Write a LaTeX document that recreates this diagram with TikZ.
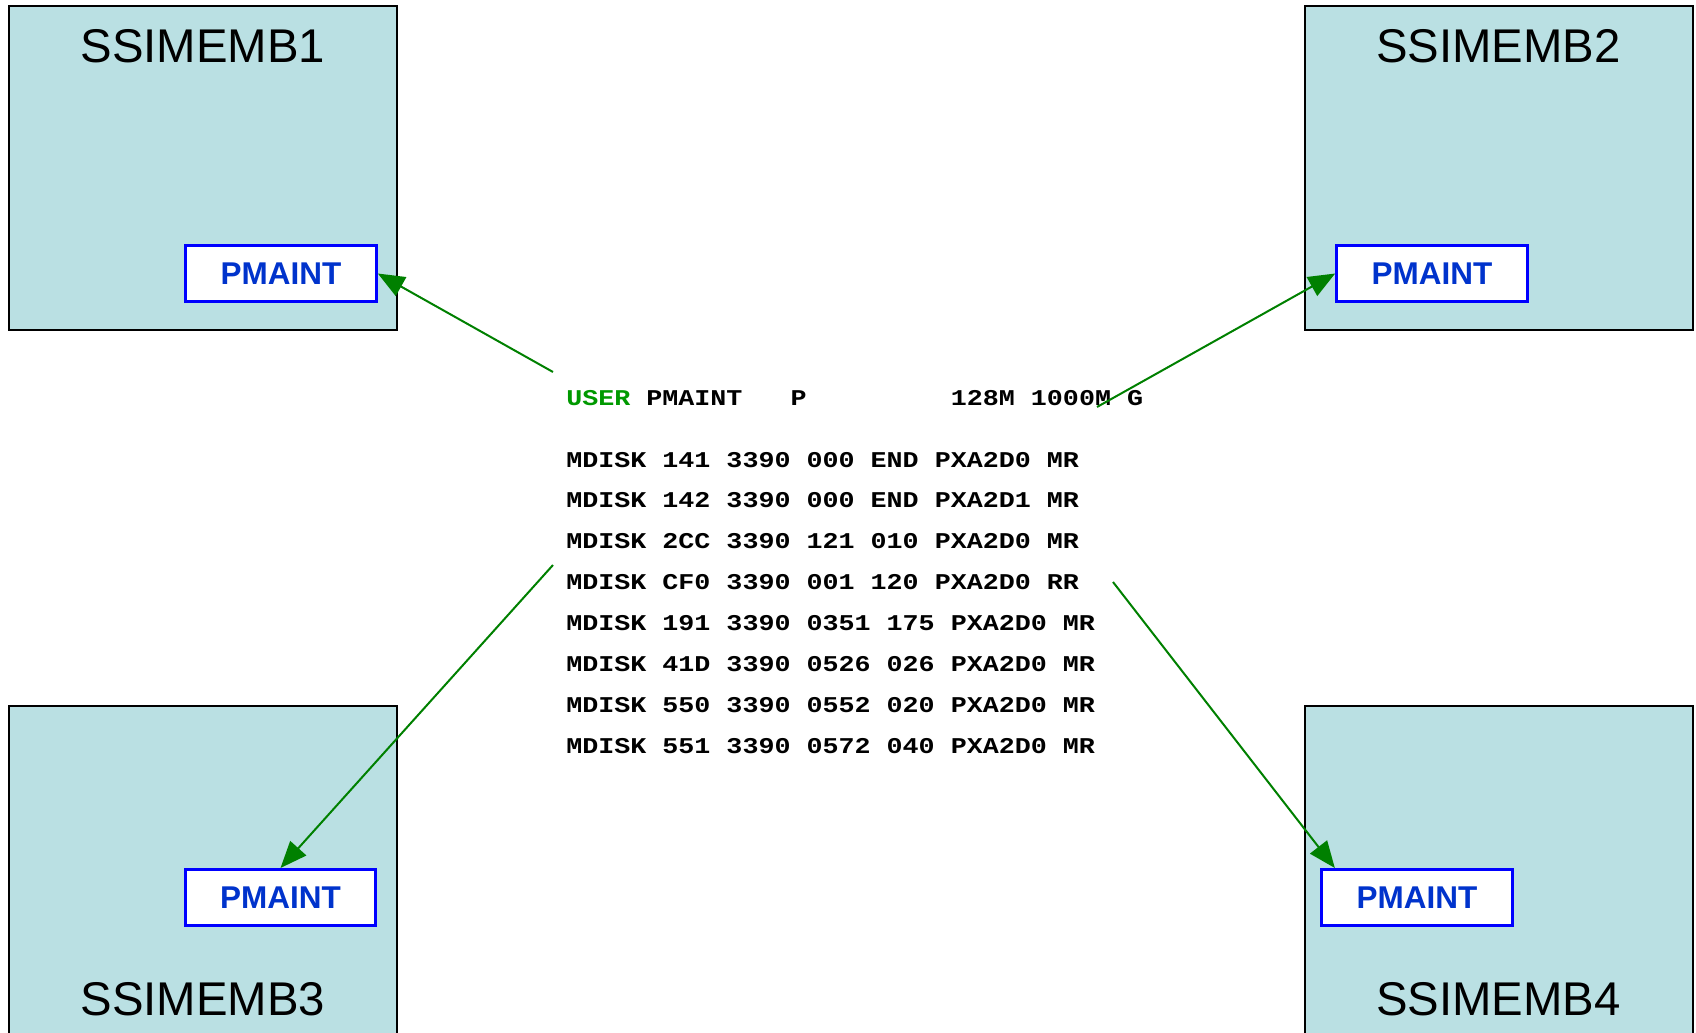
\documentclass[tikz,border=0pt]{standalone}
\usepackage{fontspec}
\setmainfont{Liberation Sans}
\setmonofont[FakeStretch=1.185]{Liberation Mono}
\usetikzlibrary{arrows.meta}
\definecolor{fondo}{RGB}{186,224,227}
\definecolor{azul}{RGB}{0,51,204}
\definecolor{verde}{RGB}{0,128,0}
\definecolor{verdeuser}{RGB}{0,153,0}

\begin{document}
\begin{tikzpicture}[x=0.75pt, y=-0.75pt, >={Triangle[length=20pt,width=16pt]},
		sistema/.style={draw, line width=1.5pt, fill=fondo, minimum width=291pt, minimum height=243pt},
		nombre/.style={font=\fontsize{35.5}{40}\selectfont, anchor=base, inner sep=0pt},
		pm/.style={draw=blue, line width=2.25pt, fill=white, text=azul, font=\fontsize{23.6}{28}\selectfont\bfseries, minimum width=143pt, minimum height=42pt},
		linea/.style={font=\fontsize{16.9}{20}\selectfont\ttfamily\bfseries, anchor=base west, inner sep=0pt},
		flecha/.style={->, verde, line width=1.5pt}]
	\useasboundingbox (0,0) rectangle (1696,1032);
	\node[sistema] (s1) at (203,168) {};
	\node[sistema] (s2) at (1498.5,168) {};
	\node[sistema, minimum height=252pt] (s3) at (203,874) {};
	\node[sistema, minimum height=252pt] (s4) at (1498.5,874) {};
	\node[nombre] (n1) at (203,62) {SSIMEMB1};
	\node[nombre] (n2) at (1498.5,62) {SSIMEMB2};
	\node[nombre] (n3) at (203,1015) {SSIMEMB3};
	\node[nombre] (n4) at (1498.5,1015) {SSIMEMB4};

	\node[pm] (p1) at (281,273.5) {PMAINT};
	\node[pm] (p2) at (1432,273.5) {PMAINT};
	\node[pm] (p3) at (280.5,897.5) {PMAINT};
	\node[pm] (p4) at (1417,897.5) {PMAINT};

	% directorio del usuario
	\node[linea] (u) at (566,405) {{\color{verdeuser}USER} PMAINT~~~P~~~~~~~~~128M 1000M G};
	\foreach \t [count=\i] in {MDISK 141 3390 000 END PXA2D0 MR,
			MDISK 142 3390 000 END PXA2D1 MR,
			MDISK 2CC 3390 121 010 PXA2D0 MR,
			MDISK CF0 3390 001 120 PXA2D0 RR,
			MDISK 191 3390 0351 175 PXA2D0 MR,
			MDISK 41D 3390 0526 026 PXA2D0 MR,
			MDISK 550 3390 0552 020 PXA2D0 MR,
			MDISK 551 3390 0572 040 PXA2D0 MR}
		\node[linea] (l\i) at (566,{467+40.9*(\i-1)}) {\t};

	\coordinate (o1) at (553,372);
	\coordinate (o2) at (1097,407);
	\coordinate (o3) at (553,565);
	\coordinate (o4) at (1113,582);
	\draw[flecha] (o1) -- (p1.east);
	\draw[flecha] (o2) -- (p2.west);
	\draw[flecha] (o3) -- (p3.north);
	\draw[flecha] (o4) -- ([xshift=11pt]p4.north west);
\end{tikzpicture}
\end{document}
